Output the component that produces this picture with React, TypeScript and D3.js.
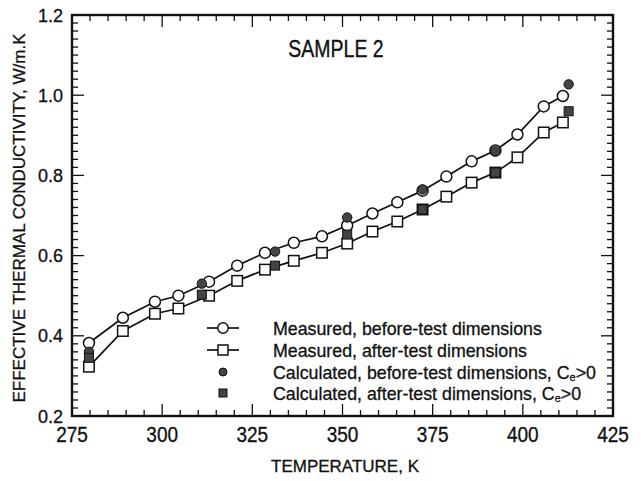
import React from "react";
import * as d3 from "d3";

const tempMeasured = [279.7, 289.1, 298, 304.5, 313, 320.8, 328.5, 336.5, 344.3, 351.3, 358.3, 365.2, 372.2, 378.8, 385.8, 392.4, 398.5, 405.8, 411.1];
const measuredBefore = [0.382, 0.445, 0.485, 0.5, 0.535, 0.575, 0.607, 0.632, 0.648, 0.675, 0.705, 0.733, 0.762, 0.797, 0.835, 0.862, 0.902, 0.972, 0.998];
const measuredAfter = [0.323, 0.412, 0.455, 0.468, 0.5, 0.537, 0.565, 0.587, 0.607, 0.63, 0.66, 0.685, 0.715, 0.747, 0.782, 0.807, 0.845, 0.907, 0.932];
const tempCalc = [279.7, 311, 331.3, 351.3, 372.2, 392.4, 412.7];
const calcBefore = [0.36, 0.53, 0.61, 0.695, 0.765, 0.86, 1.027];
const calcAfter = [0.345, 0.5025, 0.575, 0.6525, 0.715, 0.8075, 0.96];
const xTicks = [275, 300, 325, 350, 375, 400, 425];
const yTicks = [0.2, 0.4, 0.6, 0.8, 1.0, 1.2];
const legendLabels = [
  "Measured, before-test dimensions",
  "Measured, after-test dimensions",
  "Calculated, before-test dimensions, C",
  "Calculated, after-test dimensions, C",
];

const FONT = "'Liberation Sans', Arial, Helvetica, sans-serif";
const INK = "#111";

export default function App() {
  const W = 641, H = 481;
  const x = d3.scaleLinear().domain([275, 425]).range([72, 613]);
  const y = d3.scaleLinear().domain([0.2, 1.2]).range([416, 15]);
  const [x0, x1] = x.range();
  const [y0, y1] = y.range();
  const line = d3.line<[number, number]>().x(d => x(d[0])).y(d => y(d[1]));
  const before = tempMeasured.map((t, i) => [t, measuredBefore[i]] as [number, number]);
  const after = tempMeasured.map((t, i) => [t, measuredAfter[i]] as [number, number]);
  const xMinor = d3.range(275, 425.1, 5);
  const yMinor = d3.range(0, 51).map(i => 0.2 + i * 0.02);
  const isMajorX = (v: number) => Math.abs(v / 25 - Math.round(v / 25)) < 1e-6;
  const isMajorY = (v: number) => Math.abs(v / 0.2 - Math.round(v / 0.2)) < 1e-6;
  const sq = 10.5;
  const fsq = 9;
  const legX = 223;
  const legY = [328, 350, 372, 393];
  const legTextX = 273;
  const textStroke = { stroke: INK, strokeWidth: 0.3 };

  return (
    <svg width={W} height={H} style={{ position: "absolute", left: 0, top: 0, background: "#fff" }} fontFamily={FONT}>
      <rect x={0} y={0} width={W} height={H} fill="#fff" />
      {/* ticks */}
      {xMinor.map((v, i) => {
        const len = isMajorX(v) ? 12 : 6;
        return (
          <g key={"xt" + i} stroke={INK} strokeWidth={1.3}>
            <line x1={x(v)} x2={x(v)} y1={y0} y2={y0 - len} />
            <line x1={x(v)} x2={x(v)} y1={y1} y2={y1 + len} />
          </g>
        );
      })}
      {yMinor.map((v, i) => {
        const len = isMajorY(v) ? 12 : 6;
        return (
          <g key={"yt" + i} stroke={INK} strokeWidth={1.3}>
            <line x1={x0} x2={x0 + len} y1={y(v)} y2={y(v)} />
            <line x1={x1} x2={x1 - len} y1={y(v)} y2={y(v)} />
          </g>
        );
      })}
      <rect x={x0} y={y1} width={x1 - x0} height={y0 - y1} fill="none" stroke={INK} strokeWidth={2.4} />
      {/* tick labels */}
      {xTicks.map(v => (
        <g key={"xl" + v} transform={`translate(${x(v)}, ${y0 + 26}) scale(1, 1.15)`}>
          <text x={0} y={0} textAnchor="middle" fontSize={19} fill={INK} {...textStroke}>{v}</text>
        </g>
      ))}
      {yTicks.map(v => (
        <text key={"yl" + v} x={x0 - 9} y={y(v) + 6.5} textAnchor="end" fontSize={18} fill={INK} {...textStroke}>{v.toFixed(1)}</text>
      ))}
      <text x={345} y={472} textAnchor="middle" fontSize={17} fill={INK} {...textStroke}>TEMPERATURE, K</text>
      <text transform={`translate(25, 218) rotate(-90)`} textAnchor="middle" fontSize={17} fill={INK} {...textStroke}>EFFECTIVE THERMAL CONDUCTIVITY, W/m.K</text>
      <g transform="translate(336, 57) scale(1, 1.2)">
        <text x={0} y={0} textAnchor="middle" fontSize={19.5} fill={INK} {...textStroke}>SAMPLE 2</text>
      </g>
      {/* lines */}
      <path d={line(before) || ""} fill="none" stroke={INK} strokeWidth={1.7} />
      <path d={line(after) || ""} fill="none" stroke={INK} strokeWidth={1.7} />
      {/* measured markers */}
      {before.map((d, i) => (
        <circle key={"mb" + i} cx={x(d[0])} cy={y(d[1])} r={5.5} fill="#fff" stroke={INK} strokeWidth={1.5} />
      ))}
      {after.map((d, i) => (
        <rect key={"ma" + i} x={x(d[0]) - sq / 2} y={y(d[1]) - sq / 2} width={sq} height={sq} fill="#fff" stroke={INK} strokeWidth={1.5} />
      ))}
      {/* calculated markers */}
      {tempCalc.map((t, i) => (
        <circle key={"cb" + i} cx={x(t)} cy={y(calcBefore[i])} r={4.7} fill="#444" stroke={INK} strokeWidth={1} />
      ))}
      {tempCalc.map((t, i) => (
        <rect key={"ca" + i} x={x(t) - fsq / 2} y={y(calcAfter[i]) - fsq / 2} width={fsq} height={fsq} fill="#444" stroke={INK} strokeWidth={1} />
      ))}
      {/* legend */}
      <g>
        <line x1={legX - 16} x2={legX + 16} y1={legY[0]} y2={legY[0]} stroke={INK} strokeWidth={1.7} />
        <circle cx={legX} cy={legY[0]} r={5.2} fill="#fff" stroke={INK} strokeWidth={1.5} />
        <line x1={legX - 16} x2={legX + 16} y1={legY[1]} y2={legY[1]} stroke={INK} strokeWidth={1.7} />
        <rect x={legX - 5} y={legY[1] - 5} width={10} height={10} fill="#fff" stroke={INK} strokeWidth={1.5} />
        <circle cx={legX} cy={legY[2]} r={4} fill="#444" stroke={INK} strokeWidth={1} />
        <rect x={legX - 4} y={legY[3] - 4} width={8} height={8} fill="#444" stroke={INK} strokeWidth={1} />
        {legendLabels.map((s, i) => (
          <text key={"lg" + i} x={legTextX} y={legY[i] + 6.5} fontSize={17.8} fill={INK} {...textStroke}>
            {s}
            {i >= 2 ? (
              <>
                <tspan fontSize={11} dy={2}>e</tspan>
                <tspan dy={-2}>&gt;0</tspan>
              </>
            ) : null}
          </text>
        ))}
      </g>
    </svg>
  );
}
